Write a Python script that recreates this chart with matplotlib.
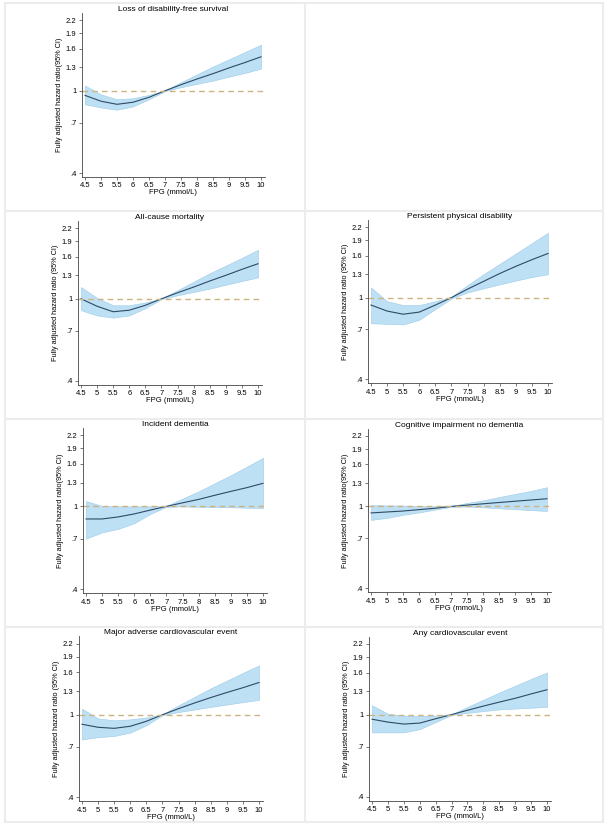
import numpy as np
import matplotlib
matplotlib.use("Agg")
import matplotlib.pyplot as plt
from matplotlib.lines import Line2D

plt.rcParams['font.family'] = ['Liberation Sans', 'DejaVu Sans']

# FPG grid (mmol/L)
fpg = [4.5, 5, 5.5, 6, 6.5, 7, 7.5, 8, 8.5, 9, 9.5, 10]

# hazard ratio, lower and upper 95% CI per outcome
ldfs_hr = [0.95, 0.89, 0.86, 0.88, 0.93, 1.0, 1.07, 1.14, 1.21, 1.29, 1.37, 1.46]
ldfs_lo = [0.86, 0.83, 0.81, 0.84, 0.91, 0.995, 1.04, 1.08, 1.12, 1.17, 1.22, 1.28]
ldfs_hi = [1.06, 0.96, 0.91, 0.92, 0.955, 1.005, 1.10, 1.20, 1.31, 1.42, 1.54, 1.67]

acm_hr = [1.0, 0.92, 0.865, 0.88, 0.93, 1.0, 1.07, 1.14, 1.22, 1.30, 1.39, 1.48]
acm_lo = [0.88, 0.83, 0.81, 0.83, 0.90, 0.995, 1.04, 1.08, 1.12, 1.17, 1.22, 1.27]
acm_hi = [1.14, 1.01, 0.93, 0.93, 0.96, 1.005, 1.10, 1.21, 1.33, 1.45, 1.58, 1.73]

ppd_hr = [0.92, 0.86, 0.83, 0.85, 0.92, 1.0, 1.10, 1.20, 1.31, 1.42, 1.53, 1.64]
ppd_lo = [0.75, 0.745, 0.74, 0.78, 0.88, 0.99, 1.06, 1.11, 1.16, 1.21, 1.26, 1.30]
ppd_hi = [1.12, 0.96, 0.92, 0.92, 0.96, 1.01, 1.15, 1.30, 1.46, 1.64, 1.84, 2.07]

dem_hr = [0.87, 0.87, 0.89, 0.92, 0.96, 1.0, 1.04, 1.08, 1.13, 1.18, 1.23, 1.29]
dem_lo = [0.70, 0.75, 0.78, 0.83, 0.92, 0.995, 1.0, 0.995, 0.99, 0.99, 0.985, 0.98]
dem_hi = [1.06, 1.005, 1.0, 1.0, 1.0, 1.005, 1.09, 1.18, 1.29, 1.41, 1.55, 1.71]

cind_hr = [0.93, 0.94, 0.95, 0.965, 0.98, 1.0, 1.015, 1.03, 1.045, 1.06, 1.075, 1.09]
cind_lo = [0.86, 0.88, 0.91, 0.935, 0.965, 0.995, 1.0, 0.99, 0.98, 0.97, 0.96, 0.95]
cind_hi = [1.015, 1.012, 1.01, 1.005, 1.0, 1.005, 1.04, 1.07, 1.11, 1.15, 1.19, 1.24]

mace_hr = [0.90, 0.87, 0.86, 0.88, 0.93, 1.0, 1.07, 1.14, 1.21, 1.28, 1.35, 1.43]
mace_lo = [0.76, 0.78, 0.79, 0.82, 0.89, 0.995, 1.03, 1.06, 1.09, 1.12, 1.15, 1.18]
mace_hi = [1.07, 0.96, 0.94, 0.95, 0.97, 1.005, 1.11, 1.22, 1.34, 1.46, 1.59, 1.73]

cvd_hr = [0.95, 0.92, 0.90, 0.91, 0.955, 1.0, 1.05, 1.10, 1.15, 1.20, 1.26, 1.32]
cvd_lo = [0.82, 0.82, 0.82, 0.85, 0.92, 0.995, 1.02, 1.04, 1.06, 1.07, 1.08, 1.09]
cvd_hi = [1.11, 1.01, 0.99, 0.985, 0.99, 1.005, 1.09, 1.18, 1.28, 1.38, 1.49, 1.60]

titles = ["Loss of disability-free survival", "All-cause mortality",
          "Persistent physical disability", "Incident dementia",
          "Cognitive impairment no dementia",
          "Major adverse cardiovascular event", "Any cardiovascular event"]
ylabels = ["Fully adjusted hazard ratio(95% CI)",
           "Fully adjusted hazard ratio (95% CI)",
           "Fully adjusted hazard ratio (95% CI)",
           "Fully adjusted hazard ratio(95% CI)",
           "Fully adjusted hazard ratio(95% CI)",
           "Fully adjusted hazard ratio (95% CI)",
           "Fully adjusted hazard ratio (95% CI)"]
series = [(ldfs_hr, ldfs_lo, ldfs_hi), (acm_hr, acm_lo, acm_hi),
          (ppd_hr, ppd_lo, ppd_hi), (dem_hr, dem_lo, dem_hi),
          (cind_hr, cind_lo, cind_hi), (mace_hr, mace_lo, mace_hi),
          (cvd_hr, cvd_lo, cvd_hi)]

yticks = [0.4, 0.7, 1, 1.3, 1.6, 1.9, 2.2]
yticklabels = [".4", ".7", "1", "1.3", "1.6", "1.9", "2.2"]
xticks = [4.5, 5, 5.5, 6, 6.5, 7, 7.5, 8, 8.5, 9, 9.5, 10]
xticklabels = ["4.5", "5", "5.5", "6", "6.5", "7", "7.5", "8", "8.5", "9", "9.5", "10"]

W, H = 609, 826
fig = plt.figure(figsize=(W / 100, H / 100), dpi=100)

# pixel positions of tick 4.5, tick 10, tick 2.2, tick .4 per panel
layout = [(85, 261, 20, 173), (81, 258, 228.3, 380.7), (371, 548, 227.3, 379.3),
          (86, 263, 435, 589.3), (371, 547, 436, 588.3),
          (82, 259, 643.7, 797.3), (372, 547, 644, 796.7)]

xlo, xhi = 4.4, 10.12
ylo, yhi = 0.383, 2.39

# light frames around the cells
frame_c = "#ececec"
for xv in [5, 305, 603]:
    fig.add_artist(Line2D([xv / W, xv / W], [1 - 3 / H, 1 - 822 / H], color=frame_c, lw=1.5))
for yv in [3, 211, 419, 627, 822]:
    fig.add_artist(Line2D([5 / W, 603 / W], [1 - yv / H, 1 - yv / H], color=frame_c, lw=1.5))

for i, (x45, x10, y22, y04) in enumerate(layout):
    sx = (x10 - x45) / 5.5
    sy = (y04 - y22) / np.log(2.2 / 0.4)
    left = x45 - (4.5 - xlo) * sx
    right = x10 + (xhi - 10) * sx
    top = y22 - np.log(yhi / 2.2) * sy
    bottom = y04 + np.log(0.4 / ylo) * sy
    ax = fig.add_axes([left / W, 1 - bottom / H, (right - left) / W, (bottom - top) / H])

    hr, lo, hi = series[i]
    ax.fill_between(fpg, lo, hi, color="#bde0f5", lw=0.4, edgecolor="#9ccbe8")
    ax.plot(fpg, hr, color="#2f4a66", lw=0.8)
    ax.axhline(1, color="#cdb382", lw=1.0, ls=(0, (4, 3)))

    ax.set_yscale("log")
    ax.set_xlim(xlo, xhi)
    ax.set_ylim(ylo, yhi)
    ax.set_yticks(yticks)
    ax.set_yticklabels(yticklabels)
    ax.yaxis.set_minor_locator(matplotlib.ticker.NullLocator())
    ax.set_xticks(xticks)
    ax.set_xticklabels(xticklabels)
    for s in ["top", "right"]:
        ax.spines[s].set_visible(False)
    for s in ["left", "bottom"]:
        ax.spines[s].set_color("#444444")
        ax.spines[s].set_linewidth(0.6)
    ax.tick_params(labelsize=5.5, length=2.5, width=0.5, color="#444444", pad=1.5)
    ax.set_title(titles[i], fontsize=6, pad=1)
    ax.set_xlabel("FPG (mmol/L)", fontsize=5.5, labelpad=0)
    ax.set_ylabel(ylabels[i], fontsize=5.3, labelpad=2)
    ax.patch.set_alpha(0)

fig.savefig("out.png", dpi=100)
